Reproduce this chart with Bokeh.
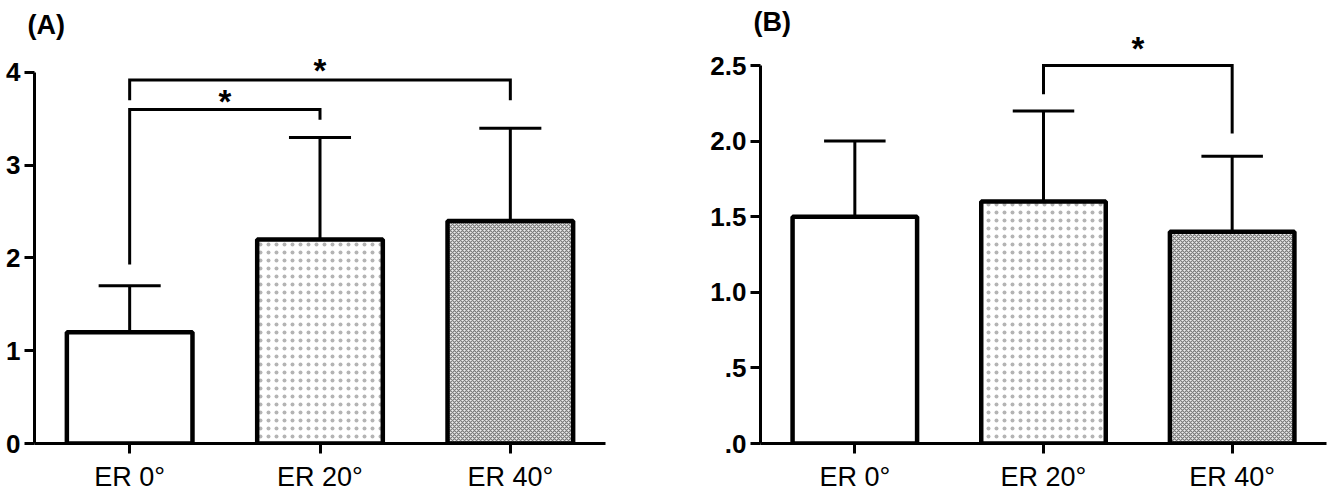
from bokeh.plotting import figure
from bokeh.layouts import row
from bokeh.models import Range1d, FixedTicker, ColumnDataSource
from bokeh.core.properties import value
from bokeh.embed import file_html
from bokeh.resources import INLINE

# Groups and bar fills
categories = ["ER 0°", "ER 20°", "ER 40°"]
fill_colors = ["#ffffff", "#ffffff", "#ececec"]
hatch_patterns = [" ", ".", "x"]
hatch_colors = ["#ffffff", "#b4b4b4", "#7a7a7a"]
hatch_scales = [7, 8, 4]
hatch_weights = [1, 1.0, 1.2]

# Panel A: means and SD
means_a = [1.2, 2.2, 2.4]
sd_a = [0.5, 1.1, 1.0]
# Panel A significance brackets
brk_a_left = [0, 0]
brk_a_right = [1, 2]
brk_a_level = [3.60, 3.92]
brk_a_left_end = [1.93, 3.70]
brk_a_right_end = [3.49, 3.70]
brk_a_star = [3.73, 4.06]

# Panel B: means and SD
means_b = [1.5, 1.6, 1.4]
sd_b = [0.5, 0.6, 0.5]
brk_b_left = [1]
brk_b_right = [2]
brk_b_level = [2.50]
brk_b_left_end = [2.31]
brk_b_right_end = [2.05]
brk_b_star = [2.64]

ticks_a = [0, 1, 2, 3, 4]
ticks_b = [0, 0.5, 1, 1.5, 2, 2.5]
tick_labels_b = [".0", ".5", "1.0", "1.5", "2.0", "2.5"]

FONT = value("Liberation Sans")
BAR_W = 0.66
CAP_HALF = 0.163
FRAME_TOP = 36
FRAME_H = 407


def panel(tag, means, sds, bl, br, blev, ble, bre, bstar, ticks, tick_labels,
          y_top, y_end, frame_w, left, right, title_standoff):
    p = figure(frame_width=frame_w, frame_height=FRAME_H,
               x_range=Range1d(-0.5, 2.5), y_range=Range1d(0, y_end),
               output_backend="svg", toolbar_location=None,
               min_border_left=left, min_border_right=right,
               min_border_top=FRAME_TOP, min_border_bottom=49,
               title=tag)
    p.title.align = "left"
    p.title.offset = -7
    p.title.standoff = title_standoff
    p.title.text_font = "Liberation Sans"
    p.title.text_font_style = "bold"
    p.title.text_font_size = "27px"
    p.title.text_color = "black"
    p.outline_line_color = None
    p.xgrid.visible = False
    p.ygrid.visible = False
    p.background_fill_color = "white"
    p.border_fill_color = "white"

    xs = list(range(len(categories)))
    src = ColumnDataSource(dict(
        x=xs, top=means, fill=fill_colors, hp=hatch_patterns,
        hc=hatch_colors, hs=hatch_scales, hw=hatch_weights))
    p.vbar(x="x", top="top", bottom=0, width=BAR_W, source=src,
           fill_color="fill", hatch_pattern="hp", hatch_color="hc",
           hatch_scale="hs", hatch_weight="hw",
           line_color="black", line_width=4.5)

    # upper SD whiskers
    upper = [m + s for m, s in zip(means, sds)]
    p.segment(x0=xs, y0=means, x1=xs, y1=upper, line_color="black", line_width=3)
    p.segment(x0=[x - CAP_HALF for x in xs], y0=upper,
              x1=[x + CAP_HALF for x in xs], y1=upper,
              line_color="black", line_width=3)

    # significance brackets
    for a, b, lev, le, re, st in zip(bl, br, blev, ble, bre, bstar):
        p.line(x=[a, a, b, b], y=[le, lev, lev, re], line_color="black",
               line_width=3, line_join="miter")
        p.text(x=[(a + b) / 2], y=[st], text=["*"], text_align="center",
               text_baseline="middle", text_font=FONT, text_font_style="bold",
               text_font_size="33px", text_color="black", y_offset=4)

    # axes
    p.xaxis.ticker = FixedTicker(ticks=xs)
    p.xaxis.major_label_overrides = dict(zip(xs, categories))
    p.xaxis.major_label_text_font = "Liberation Sans"
    p.xaxis.major_label_text_font_size = "27px"
    p.xaxis.major_label_text_color = "black"
    p.xaxis.major_label_standoff = 8
    p.xaxis.major_tick_out = 10
    p.xaxis.major_tick_in = 0
    p.xaxis.minor_tick_line_color = None

    p.yaxis.ticker = FixedTicker(ticks=ticks)
    if tick_labels is not None:
        p.yaxis.major_label_overrides = dict(zip(ticks, tick_labels))
    p.yaxis.bounds = (0, y_top)
    p.yaxis.major_label_text_font = "Liberation Sans"
    p.yaxis.major_label_text_font_style = "bold"
    p.yaxis.major_label_text_font_size = "26px"
    p.yaxis.major_label_text_color = "black"
    p.yaxis.major_label_standoff = 4
    p.yaxis.major_tick_out = 10
    p.yaxis.major_tick_in = 0
    p.yaxis.minor_tick_line_color = None

    for ax in (p.xaxis[0], p.yaxis[0]):
        ax.axis_line_width = 3
        ax.axis_line_color = "black"
        ax.major_tick_line_width = 3
        ax.major_tick_line_color = "black"
    return p


# both frames span 36..443 px; y_end places 4 (A) at 72 px and 2.5 (B) at 65 px
pa = panel("(A)", means_a, sd_a, brk_a_left, brk_a_right, brk_a_level,
           brk_a_left_end, brk_a_right_end, brk_a_star, ticks_a, None,
           4, 4.388, 571, 34, 75, -6)
pb = panel("(B)", means_b, sd_b, brk_b_left, brk_b_right, brk_b_level,
           brk_b_left_end, brk_b_right_end, brk_b_star, ticks_b, tick_labels_b,
           2.5, 2.692, 566, 80, 12, 0)

layout = row(pa, pb)
open("out.html", "w").write(file_html(layout, INLINE))
